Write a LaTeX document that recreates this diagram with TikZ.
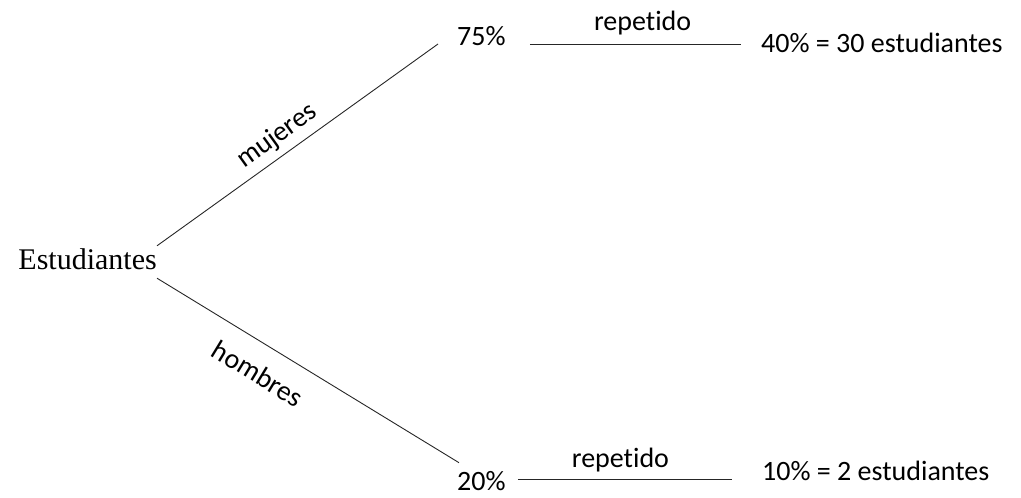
\documentclass[tikz,border=0pt]{standalone}
\usepackage{fontspec}
\setmainfont{Carlito}[Ligatures=NoCommon]
\newfontfamily\timesfont{Liberation Serif}
\usetikzlibrary{calc}

\tikzset{
  branch/.style={draw=black!85, line width=0.9pt},
  txt/.style={inner sep=0pt, font=\fontsize{28}{33}\selectfont},
  root/.style={inner sep=0pt, font=\timesfont\fontsize{30}{36}\selectfont,
               text height=23pt, text depth=9pt},
  edgelabel/.style={inner sep=0pt, font=\fontsize{28}{33}\selectfont, sloped},
}

\begin{document}
\begin{tikzpicture}[x=1pt, y=-1pt]
  \useasboundingbox (0,0) rectangle (1021,498);

  % root and leaves
  \node[root, anchor=base east] (est) at (157,269) {Estudiantes};
  \node[txt, anchor=base west] (p75) at (457,45) {75\%};
  \node[txt, anchor=base west] (p20) at (457,490.7) {20\%};
  \node[txt, anchor=base west] (r1) at (761,52) {40\% = 30 estudiantes};
  \node[txt, anchor=base west] (r2) at (762,480) {10\% = 2 estudiantes};

  % first-level branches
  \draw[branch] (est.north east) --
    node[edgelabel, pos=0.467, above=6.4pt] {mujeres}
    ([xshift=-19pt, yshift=1pt]p75.base west);
  \draw[branch] (est.south east) --
    node[edgelabel, pos=0.384, below=18.4pt] {hombres}
    ([xshift=2pt, yshift=28pt]p20.base west);

  % second-level branches
  \draw[branch] ([xshift=24pt, yshift=1pt]p75.base east) --
    node[txt, pos=0.534, anchor=base, yshift=14pt] {repetido}
    ([xshift=-20pt, yshift=8pt]r1.base west);
  \draw[branch] ([xshift=12pt, yshift=11.7pt]p20.base east) --
    node[txt, pos=0.479, anchor=base, yshift=11.7pt] {repetido}
    ([xshift=-30pt, yshift=1pt]r2.base west);
\end{tikzpicture}
\end{document}
